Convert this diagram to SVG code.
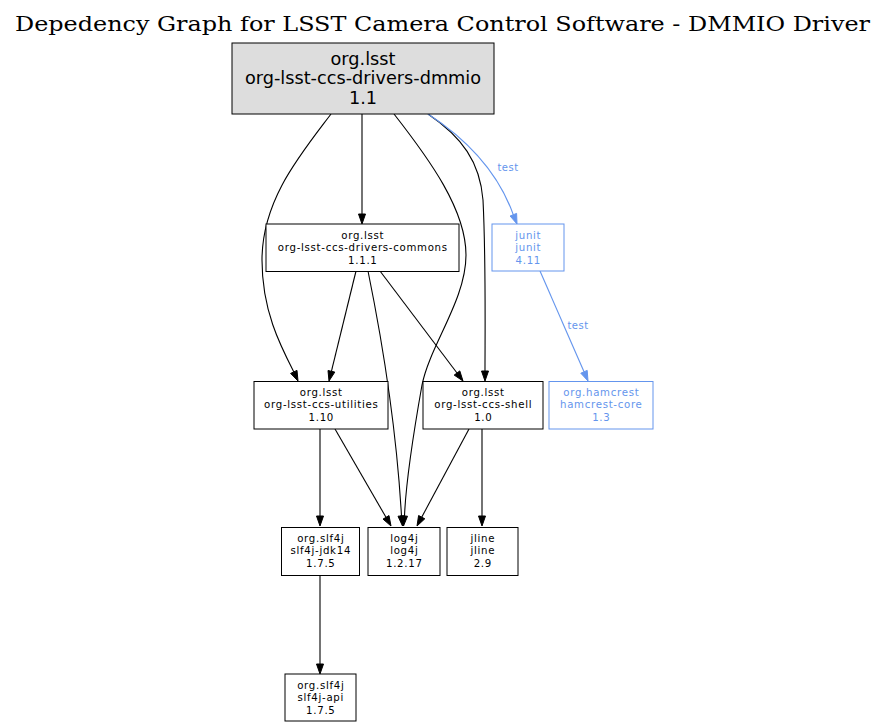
<svg xmlns="http://www.w3.org/2000/svg" width="885" height="728" viewBox="0 0 885 728">
<style>
.bg{fill:#ffffff}
.title{font-family:"DejaVu Serif","Liberation Serif",serif;font-size:21px;fill:#000}
.box{fill:#ffffff;stroke:#000;stroke-width:1}
.root{fill:#dddddd;stroke:#000;stroke-width:1}
.tbox{fill:#ffffff;stroke:#6495ed;stroke-width:1}
.lg{font-family:"DejaVu Sans","Liberation Sans",sans-serif;font-size:17.7px;fill:#000;text-anchor:middle}
.sm{font-family:"DejaVu Sans","Liberation Sans",sans-serif;font-size:10.2px;letter-spacing:0.7px;fill:#000;text-anchor:middle}
.smb{font-family:"DejaVu Sans","Liberation Sans",sans-serif;font-size:10.2px;letter-spacing:0.7px;fill:#6495ed;text-anchor:middle}
.lbl{font-family:"DejaVu Sans","Liberation Sans",sans-serif;font-size:10px;letter-spacing:0.5px;fill:#6495ed;text-anchor:middle}
.e{fill:none;stroke:#000;stroke-width:1.1}
.eb{fill:none;stroke:#6495ed;stroke-width:1.1}
.ah{fill:#000;stroke:#000;stroke-width:1}
.ahb{fill:#6495ed;stroke:#6495ed;stroke-width:1}
</style>
<rect class="bg" x="0" y="0" width="885" height="728"/>
<text class="title" x="15" y="31" textLength="855" lengthAdjust="spacingAndGlyphs">Depedency Graph for LSST Camera Control Software - DMMIO Driver</text>

<g id="connectors">
  <!-- main -> utilities -->
  <path class="e" d="M331,114 C300,155 262,200 262,260 C262,310 280,345 293.8,371.9"/>
  <polygon class="ah" points="298,381 290.6,373.4 297,370.4"/>
  <!-- main -> commons -->
  <path class="e" d="M362,114 L362,214"/>
  <polygon class="ah" points="362,224 358.5,214 365.5,214"/>
  <!-- main -> log4j -->
  <path class="e" d="M394,114 C430,160 466,210 466,255 C466,300 430,345 422,385 C414,430 406,480 404.5,516"/>
  <polygon class="ah" points="403.5,526 400.5,515.8 407.5,516.2"/>
  <!-- main -> shell -->
  <path class="e" d="M428,114 C462,137 480,162 483,200 C486,260 485,330 485,371"/>
  <polygon class="ah" points="485,381 481.5,371 488.5,371"/>
  <!-- main -> junit (test) -->
  <path class="eb" d="M428,114 C468,140 498,172 513.3,214.7"/>
  <polygon class="ahb" points="517,224 510.1,216 516.6,213.4"/>
  <text class="lbl" x="508" y="171">test</text>
  <!-- commons -> utilities -->
  <path class="e" d="M356,271 L331.4,371.3"/>
  <polygon class="ah" points="329,381 328,370.5 334.8,372.1"/>
  <!-- commons -> log4j -->
  <path class="e" d="M368,271 C380,330 396,420 401.5,516"/>
  <polygon class="ah" points="402.5,526 398,516.2 405,515.8"/>
  <!-- commons -> shell -->
  <path class="e" d="M380,271 L457,373"/>
  <polygon class="ah" points="463,381 454.2,375.1 459.8,370.9"/>
  <!-- junit -> hamcrest (test) -->
  <path class="eb" d="M540,271 L584,371.8"/>
  <polygon class="ahb" points="588,381 580.8,373.2 587.2,370.4"/>
  <text class="lbl" x="578" y="329">test</text>
  <!-- utilities -> slf4j-jdk14 -->
  <path class="e" d="M320,429 L320,516"/>
  <polygon class="ah" points="320,526 316.5,516 323.5,516"/>
  <!-- utilities -> log4j -->
  <path class="e" d="M335,429 L386,517.3"/>
  <polygon class="ah" points="391,526 383,519.1 389,515.6"/>
  <!-- shell -> log4j -->
  <path class="e" d="M469,429 L421.7,517.2"/>
  <polygon class="ah" points="417,526 418.6,515.5 424.8,518.8"/>
  <!-- shell -> jline -->
  <path class="e" d="M482,429 L482,516"/>
  <polygon class="ah" points="482,526 478.5,516 485.5,516"/>
  <!-- slf4j-jdk14 -> slf4j-api -->
  <path class="e" d="M320,575 L320,664"/>
  <polygon class="ah" points="320,674 316.5,664 323.5,664"/>
</g>

<g id="node-dmmio">
  <rect class="root" x="232" y="43" width="262" height="71"/>
  <text class="lg" x="363" y="64.5">org.lsst</text>
  <text class="lg" x="363" y="84">org-lsst-ccs-drivers-dmmio</text>
  <text class="lg" x="363" y="103.5">1.1</text>
</g>
<g id="node-commons">
  <rect class="box" x="266" y="224" width="193" height="47.5"/>
  <text class="sm" x="362.8" y="238.5">org.lsst</text>
  <text class="sm" x="362.8" y="251">org-lsst-ccs-drivers-commons</text>
  <text class="sm" x="362.8" y="263.5">1.1.1</text>
</g>
<g id="node-junit">
  <rect class="tbox" x="492" y="224" width="72" height="47"/>
  <text class="smb" x="528.3" y="238.5">junit</text>
  <text class="smb" x="528.3" y="251">junit</text>
  <text class="smb" x="528.3" y="263.5">4.11</text>
</g>
<g id="node-utilities">
  <rect class="box" x="254" y="381.5" width="134" height="47.5"/>
  <text class="sm" x="321.3" y="395.5">org.lsst</text>
  <text class="sm" x="321.3" y="408">org-lsst-ccs-utilities</text>
  <text class="sm" x="321.3" y="420.5">1.10</text>
</g>
<g id="node-shell">
  <rect class="box" x="423" y="381.5" width="120" height="47.5"/>
  <text class="sm" x="483.3" y="395.5">org.lsst</text>
  <text class="sm" x="483.3" y="408">org-lsst-ccs-shell</text>
  <text class="sm" x="483.3" y="420.5">1.0</text>
</g>
<g id="node-hamcrest">
  <rect class="tbox" x="549" y="381.5" width="104" height="47.5"/>
  <text class="smb" x="601.3" y="395.5">org.hamcrest</text>
  <text class="smb" x="601.3" y="408">hamcrest-core</text>
  <text class="smb" x="601.3" y="420.5">1.3</text>
</g>
<g id="node-jdk14">
  <rect class="box" x="281.5" y="527.5" width="78" height="48"/>
  <text class="sm" x="320.8" y="541.5">org.slf4j</text>
  <text class="sm" x="320.8" y="554">slf4j-jdk14</text>
  <text class="sm" x="320.8" y="566.5">1.7.5</text>
</g>
<g id="node-log4j">
  <rect class="box" x="368" y="527.5" width="72" height="48"/>
  <text class="sm" x="404.3" y="541.5">log4j</text>
  <text class="sm" x="404.3" y="554">log4j</text>
  <text class="sm" x="404.3" y="566.5">1.2.17</text>
</g>
<g id="node-jline">
  <rect class="box" x="447" y="527.5" width="71" height="48"/>
  <text class="sm" x="482.8" y="541.5">jline</text>
  <text class="sm" x="482.8" y="554">jline</text>
  <text class="sm" x="482.8" y="566.5">2.9</text>
</g>
<g id="node-api">
  <rect class="box" x="285" y="674" width="71" height="47"/>
  <text class="sm" x="320.8" y="688.5">org.slf4j</text>
  <text class="sm" x="320.8" y="701">slf4j-api</text>
  <text class="sm" x="320.8" y="713.5">1.7.5</text>
</g>
</svg>
